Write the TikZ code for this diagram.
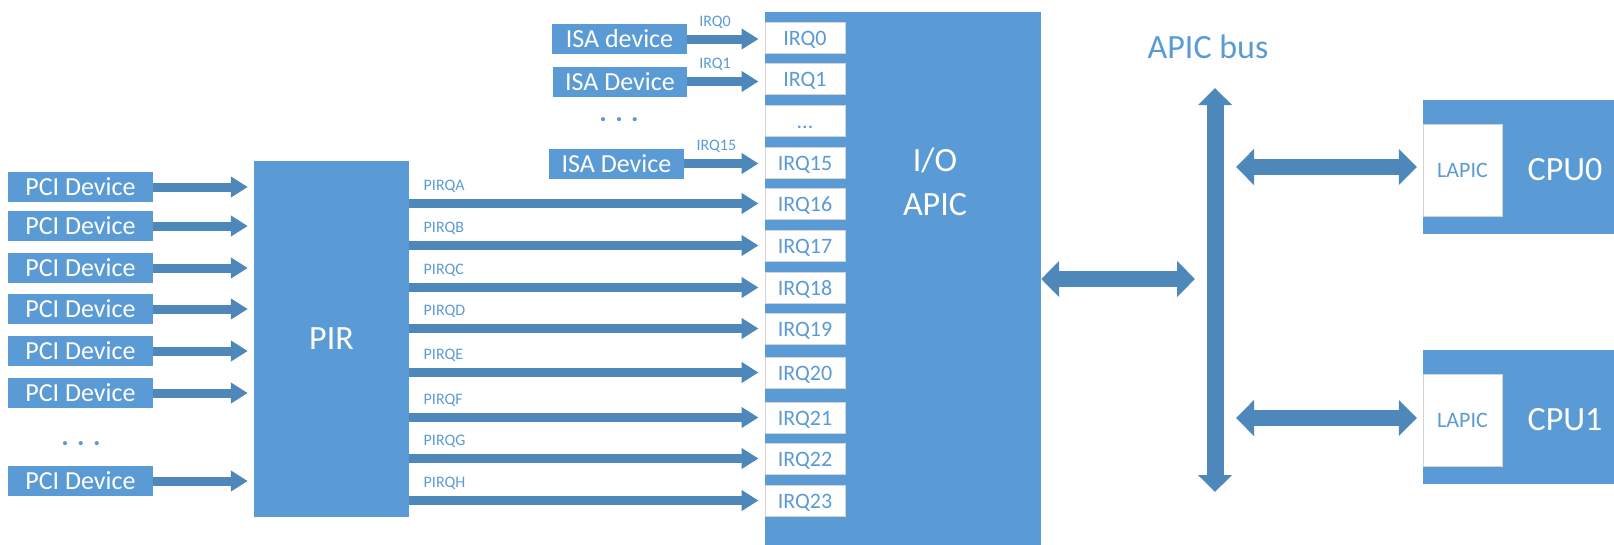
\documentclass[tikz,border=0pt]{standalone}
\usepackage{fontspec}
\setmainfont{Carlito}
\usetikzlibrary{arrows.meta}

\definecolor{boxblue}{HTML}{5B9BD5}
\definecolor{arrowblue}{HTML}{4E87BA}
\definecolor{edgegray}{HTML}{D4D4D4}

\tikzset{
  devbox/.style={fill=boxblue, text=white, inner sep=0pt, minimum height=30pt, font=\fontsize{26}{30}\selectfont},
  irqbox/.style={fill=white, draw=edgegray, line width=1pt, text=boxblue, inner sep=0pt, minimum width=80pt, minimum height=31pt, text height=15pt, text depth=0pt, font=\fontsize{22}{26}\selectfont},
  smalllbl/.style={text=boxblue, inner sep=2pt, font=\fontsize{16}{18}\selectfont},
  bigtxt/.style={font=\fontsize{34}{44}\selectfont},
  dotstxt/.style={text=boxblue, font=\fontsize{28}{30}\selectfont\bfseries},
  fatarrow/.style={draw=arrowblue, line width=9pt, -{Triangle[width=20pt,length=17pt]}, shorten >=6pt},
  busarrow/.style={draw=arrowblue, line width=16pt, {Triangle[width=35pt,length=18pt]}-{Triangle[width=35pt,length=18pt]}},
}

\begin{document}
\begin{tikzpicture}[x=1pt, y=-1pt]
\useasboundingbox (0,0) rectangle (1614,544);

% PCI devices and PIR
\node[devbox, minimum width=145pt] (pci1) at (80.5,187) {PCI Device};
\node[devbox, minimum width=145pt] (pci2) at (80.5,226) {PCI Device};
\node[devbox, minimum width=145pt] (pci3) at (80.5,268) {PCI Device};
\node[devbox, minimum width=145pt] (pci4) at (80.5,309) {PCI Device};
\node[devbox, minimum width=145pt] (pci5) at (80.5,351) {PCI Device};
\node[devbox, minimum width=145pt] (pci6) at (80.5,393) {PCI Device};
\node[dotstxt] (pcidots) at (81,444) {. . .};
\node[devbox, minimum width=145pt] (pcin) at (80.5,481) {PCI Device};

\node[devbox, bigtxt, minimum width=155pt, minimum height=356pt] (pir) at (331.5,339) {PIR};

\draw[fatarrow] (pci1.east) -- (pir.west |- pci1.east);
\draw[fatarrow] (pci2.east) -- (pir.west |- pci2.east);
\draw[fatarrow] (pci3.east) -- (pir.west |- pci3.east);
\draw[fatarrow] (pci4.east) -- (pir.west |- pci4.east);
\draw[fatarrow] (pci5.east) -- (pir.west |- pci5.east);
\draw[fatarrow] (pci6.east) -- (pir.west |- pci6.east);
\draw[fatarrow] (pcin.east) -- (pir.west |- pcin.east);

% I/O APIC with its input lines
\node[fill=boxblue, inner sep=0pt, minimum width=276pt, minimum height=540pt] (ioapic) at (903,282) {};
\node[bigtxt, text=white, align=center] (iotxt) at (935,182) {I/O\\APIC};

\node[irqbox] (irq0) at (805,37.5) {IRQ0};
\node[irqbox] (irq1) at (805,78.5) {IRQ1};
\node[irqbox] (irqdots) at (805,120.5) {...};
\node[irqbox] (irq15) at (805,162.5) {IRQ15};
\node[irqbox] (irq16) at (805,203.5) {IRQ16};
\node[irqbox] (irq17) at (805,245.5) {IRQ17};
\node[irqbox] (irq18) at (805,287.5) {IRQ18};
\node[irqbox] (irq19) at (805,328.5) {IRQ19};
\node[irqbox] (irq20) at (805,372.5) {IRQ20};
\node[irqbox] (irq21) at (805,417.5) {IRQ21};
\node[irqbox] (irq22) at (805,458.5) {IRQ22};
\node[irqbox] (irq23) at (805,500.5) {IRQ23};

% ISA devices
\node[devbox, minimum width=135pt] (isa0) at (619.5,39) {ISA device};
\node[devbox, minimum width=134pt] (isa1) at (620,81.5) {ISA Device};
\node[dotstxt] (isadots) at (619,120) {. . .};
\node[devbox, minimum width=135pt] (isa15) at (616.5,163.5) {ISA Device};

\draw[fatarrow] (isa0.east) -- (irq0.west |- isa0.east) node[smalllbl, above=4pt, pos=0.36] {IRQ0}; %irq0
\draw[fatarrow] (isa1.east) -- (irq1.west |- isa1.east) node[smalllbl, above=4pt, pos=0.36] {IRQ1}; %irq1
\draw[fatarrow] (isa15.east) -- (irq15.west |- isa15.east) node[smalllbl, above=4pt, pos=0.4] {IRQ15}; %irq15

% PIRQ lines
\draw[fatarrow] (pir.east |- irq16.west) -- (irq16.west) node[smalllbl, anchor=south west, pos=0, xshift=8pt, yshift=4pt] {PIRQA};
\draw[fatarrow] (pir.east |- irq17.west) -- (irq17.west) node[smalllbl, anchor=south west, pos=0, xshift=8pt, yshift=4pt] {PIRQB};
\draw[fatarrow] (pir.east |- irq18.west) -- (irq18.west) node[smalllbl, anchor=south west, pos=0, xshift=8pt, yshift=4pt] {PIRQC};
\draw[fatarrow] (pir.east |- irq19.west) -- (irq19.west) node[smalllbl, anchor=south west, pos=0, xshift=8pt, yshift=4pt] {PIRQD};
\draw[fatarrow] (pir.east |- irq20.west) -- (irq20.west) node[smalllbl, anchor=south west, pos=0, xshift=8pt, yshift=4pt] {PIRQE};
\draw[fatarrow] (pir.east |- irq21.west) -- (irq21.west) node[smalllbl, anchor=south west, pos=0, xshift=8pt, yshift=4pt] {PIRQF};
\draw[fatarrow] (pir.east |- irq22.west) -- (irq22.west) node[smalllbl, anchor=south west, pos=0, xshift=8pt, yshift=4pt] {PIRQG};
\draw[fatarrow] (pir.east |- irq23.west) -- (irq23.west) node[smalllbl, anchor=south west, pos=0, xshift=8pt, yshift=4pt] {PIRQH};

% APIC bus
\node[bigtxt, text=boxblue] (buslbl) at (1208,47) {APIC bus};
\coordinate (bustop) at (1215,88);
\coordinate (busbot) at (1215,492);
\coordinate (busio) at (1195,279);
\coordinate (bus0) at (1236,167);
\coordinate (bus1) at (1236,418);
\draw[busarrow, line width=17pt, {Triangle[width=33pt,length=17pt]}-{Triangle[width=33pt,length=17pt]}] (bustop) -- (busbot);
\draw[busarrow] (ioapic.east |- busio) -- (busio);

% CPUs
\node[fill=boxblue, inner sep=0pt, minimum width=200pt, minimum height=134pt] (cpu0) at (1523,167) {};
\node[irqbox, minimum width=79pt, minimum height=92pt] (lapic0) at (1462.5,170) {LAPIC};
\node[bigtxt, text=white] (cpu0txt) at (1565,170) {CPU0};
\node[fill=boxblue, inner sep=0pt, minimum width=200pt, minimum height=134pt] (cpu1) at (1523,417) {};
\node[irqbox, minimum width=79pt, minimum height=92pt] (lapic1) at (1462.5,420) {LAPIC};
\node[bigtxt, text=white] (cpu1txt) at (1565,420) {CPU1};

\draw[busarrow, shorten >=6pt] (bus0) -- (bus0 -| cpu0.west);
\draw[busarrow, shorten >=6pt] (bus1) -- (bus1 -| cpu1.west);

\end{tikzpicture}
\end{document}
